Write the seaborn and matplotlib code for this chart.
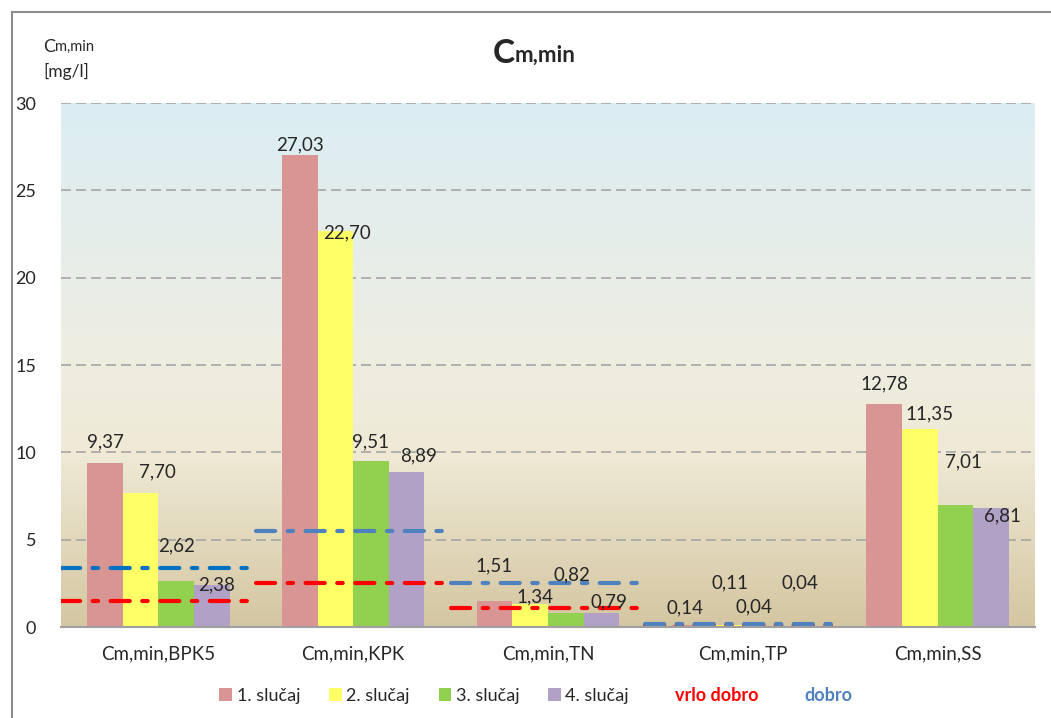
import numpy as np
import pandas as pd
import seaborn as sns
import matplotlib.pyplot as plt
from matplotlib.patches import Patch, Rectangle
from matplotlib.colors import LinearSegmentedColormap

# data
params = ["Cm,min,BPK5", "Cm,min,KPK", "Cm,min,TN", "Cm,min,TP", "Cm,min,SS"]
cases = ["1. slučaj", "2. slučaj", "3. slučaj", "4. slučaj"]
case1 = [9.37, 27.03, 1.51, 0.14, 12.78]
case2 = [7.70, 22.70, 1.34, 0.11, 11.35]
case3 = [2.62, 9.51, 0.82, 0.04, 7.01]
case4 = [2.38, 8.89, 0.79, 0.04, 6.81]
# limit values (class boundaries), None = no limit shown
vrlo_dobro = [1.5, 2.5, 1.1, 0.1, None]
dobro = [3.4, 5.5, 2.5, 0.15, None]

bar_colors = ["#D99594", "#FFFF66", "#92D050", "#B2A1C7"]

# manual nudges of the value labels (px right, px above bar top), like in the original
label_dx = [[0, 0, -1, -4, 0], [17, 12, 5, 5, 10], [0, 0, 6, -7, 8], [5, 12, 8, 4, 12]]
label_dy = [[21, 10, 35, 17, 20], [21, -2, 7, 42, 15], [35, 19, 38, 19, 43], [1, 16, 11, 43, -8]]

df = pd.DataFrame({
    "param": params * 4,
    "case": sum([[c] * len(params) for c in cases], []),
    "value": case1 + case2 + case3 + case4,
})

sns.set_style("white")
plt.rcParams["font.family"] = ["Lato", "DejaVu Sans"]

fig = plt.figure(figsize=(10.51, 7.18), dpi=100)
ax = fig.add_axes([61 / 1051, 1 - 627 / 718, (1035 - 61) / 1051, (627 - 103) / 718])

# gradient background of the plot area
grad = LinearSegmentedColormap.from_list(
    "bg", [(0, "#D4C6A1"), (0.33, "#EFEAD6"), (0.55, "#EDEEE3"), (1, "#DBEDF3")])
ax.imshow(np.linspace(0, 1, 256).reshape(-1, 1), cmap=grad, origin="lower",
          extent=[-0.5, 4.5, 0, 30], aspect="auto", zorder=0)

sns.barplot(data=df, x="param", y="value", hue="case", palette=bar_colors,
            width=0.73, saturation=1, ax=ax, legend=False, zorder=2,
            linewidth=0, edgecolor="none")

for k, cont in enumerate(ax.containers):
    for j, bar in enumerate(cont.patches):
        v = cont.datavalues[j]
        ax.annotate(f"{v:.2f}".replace(".", ","),
                    xy=(bar.get_x() + bar.get_width() / 2, bar.get_height()),
                    xytext=(label_dx[k][j] * 0.72, label_dy[k][j] * 0.72),
                    textcoords="offset points", ha="center", va="center",
                    fontsize=13.5, zorder=5)

# threshold lines, one per parameter
dash = (0, (4.6, 3.0, 1.3, 3.0))
for i, (r, b) in enumerate(zip(vrlo_dobro, dobro)):
    if r is not None:
        ax.plot([i - 0.5, i + 0.5], [r, r], color="#FF0000", lw=3, ls=dash,
                dash_capstyle="round", zorder=4)
    if b is not None:
        ax.plot([i - 0.5, i + 0.5], [b, b], color="#0070C0" if i == 0 else "#4F81BD",
                lw=3, ls=dash, dash_capstyle="round", zorder=4)

ax.set_xlim(-0.5, 4.5)
ax.set_ylim(0, 30)
ax.set_yticks(range(0, 31, 5))
ax.set_yticklabels([str(v) for v in range(0, 31, 5)], fontsize=13)
ax.tick_params(axis="x", labelsize=13.5, pad=13, length=0)
ax.tick_params(axis="y", pad=18, length=0)
ax.set_xlabel("")
ax.set_ylabel("")
for y in range(5, 31, 5):
    ax.axhline(y, color="#A6A6A6", lw=1.2, ls=(0, (6, 3)), zorder=1)
for s in ["top", "right", "left"]:
    ax.spines[s].set_visible(False)
ax.spines["bottom"].set_color("#A0A0A0")
ax.spines["bottom"].set_linewidth(1.5)
ax.spines["bottom"].set_zorder(6)

# title with big C
t = fig.text(0.469, 0.905, "C", fontsize=24, fontweight="bold", va="bottom")
fig.canvas.draw()
tb = t.get_window_extent()
fig.text(tb.x1 / fig.bbox.width, tb.y0 / fig.bbox.height + 0.004, "m,min",
         fontsize=16, fontweight="bold", va="bottom")

# y axis label
c = fig.text(0.041, 0.923, "C", fontsize=13, va="bottom")
fig.canvas.draw()
cb = c.get_window_extent()
fig.text(cb.x1 / fig.bbox.width, cb.y0 / fig.bbox.height + 0.002, "m,min", fontsize=10.5, va="bottom")
fig.text(0.041, 0.888, "[mg/l]", fontsize=12.5, va="bottom")

# legend
handles = [Patch(facecolor=col, edgecolor="none") for col in bar_colors]
handles += [Patch(alpha=0), Patch(alpha=0)]
labels = cases + ["vrlo dobro", "dobro"]
leg = fig.legend(handles, labels, loc="center", bbox_to_anchor=(0.51, 0.032), ncol=6,
                 frameon=False, fontsize=13, handlelength=0.7, handleheight=0.7,
                 handletextpad=0.25, columnspacing=1.6)
texts = leg.get_texts()
texts[4].set_color("#FF0000")
texts[4].set_fontweight("bold")
texts[5].set_color("#4F81BD")
texts[5].set_fontweight("bold")

# outer chart frame
fig.patches.append(Rectangle((12 / 1051, -0.1), 1.2, 1 - 12 / 718 + 0.1, transform=fig.transFigure,
                             fill=False, edgecolor="#8C8C8C", lw=1.5))

fig.savefig("out.png", dpi=100)
